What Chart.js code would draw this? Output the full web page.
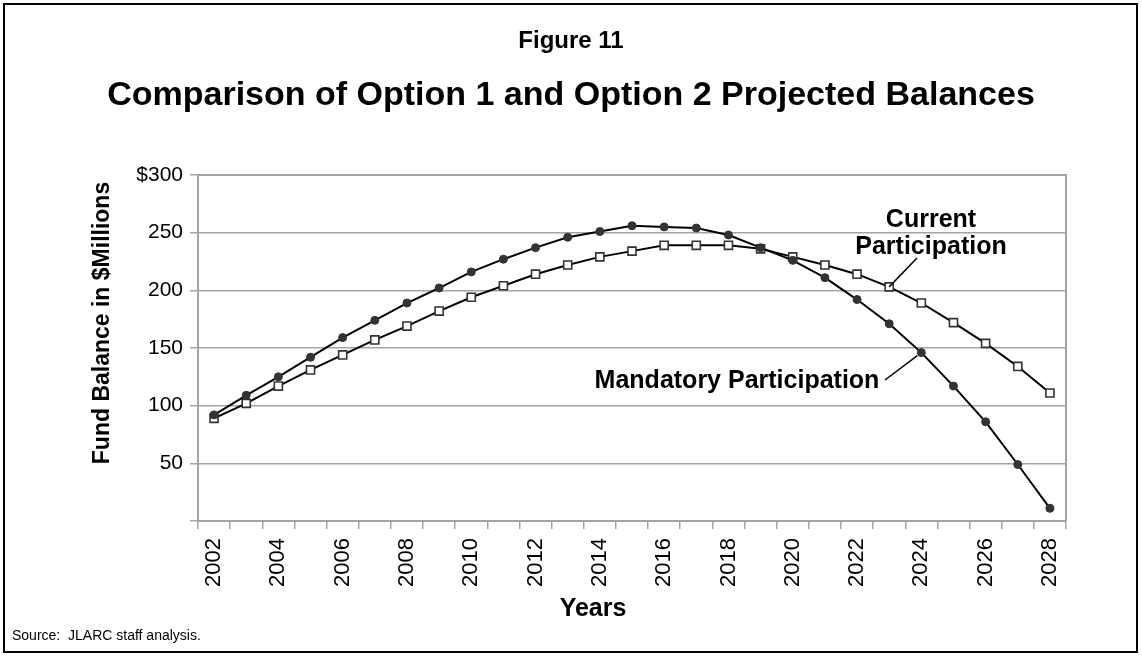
<!DOCTYPE html>
<html>
<head>
<meta charset="utf-8">
<script src="https://cdn.jsdelivr.net/npm/chart.js@4.4.1/dist/chart.umd.min.js"></script>
<style>
  html, body { margin: 0; padding: 0; background: #fff; }
  #wrap { width: 1142px; height: 658px; position: relative; }
</style>
</head>
<body>
<div id="wrap"><canvas id="c" width="1142" height="658"></canvas></div>
<script>
// Projected fund balances, $ millions
const years = ['2002','2003','2004','2005','2006','2007','2008','2009','2010','2011','2012','2013','2014',
               '2015','2016','2017','2018','2019','2020','2021','2022','2023','2024','2025','2026','2027','2028'];
const mandatoryParticipation = [92, 109, 125, 142, 159, 174, 189, 202, 216, 227, 237, 246, 251,
                                256, 255, 254, 248, 237, 226, 211, 192, 171, 146, 117, 86, 49, 11];
const currentParticipation   = [89, 102, 117, 131, 144, 157, 169, 182, 194, 204, 214, 222, 229,
                                234, 239, 239, 239, 236, 229, 222, 214, 203, 189, 172, 154, 134, 111];
const yTicks = [0, 50, 100, 150, 200, 250, 300];

const FONT = '"Liberation Sans", Arial, Helvetica, sans-serif';
const GRID = '#a3a3a3';

function drawText(ctx, text, x, y, font) {
  ctx.font = font;
  ctx.fillText(text, x, y);
}

// Frame, headings, axis titles, source note and line call-outs
const decorations = {
  id: 'decorations',
  beforeDraw(chart) {
    const ctx = chart.ctx;
    ctx.save();
    ctx.fillStyle = '#fff';
    ctx.fillRect(0, 0, chart.width, chart.height);
    ctx.restore();
  },
  afterDraw(chart) {
    const ctx = chart.ctx;
    const xs = chart.scales.x, ys = chart.scales.y;
    const area = chart.chartArea;
    ctx.save();

    // plot border (top / right)
    ctx.strokeStyle = GRID;
    ctx.lineWidth = 2;
    ctx.beginPath();
    ctx.moveTo(area.left, area.top);
    ctx.lineTo(area.right, area.top);
    ctx.lineTo(area.right, area.bottom);
    ctx.stroke();

    // outer frame
    ctx.strokeStyle = '#000';
    ctx.lineWidth = 2;
    ctx.strokeRect(4, 4, 1133, 648);

    ctx.fillStyle = '#000';
    ctx.textAlign = 'center';
    ctx.textBaseline = 'middle';

    drawText(ctx, 'Figure 11', 571, 41, 'bold 24px ' + FONT);
    drawText(ctx, 'Comparison of Option 1 and Option 2 Projected Balances', 571, 96, 'bold 34px ' + FONT);

    // y axis title
    ctx.save();
    ctx.translate(103, 323);
    ctx.rotate(-Math.PI / 2);
    drawText(ctx, 'Fund Balance in $Millions', 0, 0, 'bold 23px ' + FONT);
    ctx.restore();

    // x axis title
    drawText(ctx, 'Years', 593, 609, 'bold 25px ' + FONT);

    // source note
    ctx.textAlign = 'left';
    drawText(ctx, 'Source:  JLARC staff analysis.', 12, 636, '14px ' + FONT);

    // call-out labels
    ctx.textAlign = 'center';
    drawText(ctx, 'Current', 931, 220, 'bold 25px ' + FONT);
    drawText(ctx, 'Participation', 931, 247, 'bold 25px ' + FONT);
    drawText(ctx, 'Mandatory Participation', 737, 381, 'bold 25px ' + FONT);

    // leader lines to the series
    const iCur = years.indexOf('2023');
    const iMan = years.indexOf('2024');
    ctx.strokeStyle = '#000';
    ctx.lineWidth = 1.5;
    ctx.beginPath();
    ctx.moveTo(917, 258);
    ctx.lineTo(xs.getPixelForValue(iCur), ys.getPixelForValue(currentParticipation[iCur]));
    ctx.moveTo(885, 380);
    ctx.lineTo(xs.getPixelForValue(iMan) - 4, ys.getPixelForValue(mandatoryParticipation[iMan]) + 3);
    ctx.stroke();

    ctx.restore();
  }
};

new Chart(document.getElementById('c'), {
  type: 'line',
  data: {
    labels: years,
    datasets: [
      {
        label: 'Mandatory Participation',
        data: mandatoryParticipation,
        borderColor: '#000',
        borderWidth: 2,
        pointStyle: 'circle',
        pointRadius: 4,
        pointBackgroundColor: '#333',
        pointBorderColor: '#333',
        pointBorderWidth: 1,
        tension: 0
      },
      {
        label: 'Current Participation',
        data: currentParticipation,
        borderColor: '#000',
        borderWidth: 2,
        pointStyle: 'rect',
        pointRadius: 5.7,
        pointBackgroundColor: '#fff',
        pointBorderColor: '#333',
        pointBorderWidth: 1.6,
        tension: 0
      }
    ]
  },
  options: {
    responsive: false,
    animation: false,
    devicePixelRatio: 1,
    layout: { padding: { left: 0, top: 175, right: 76, bottom: 0 } },
    plugins: {
      legend: { display: false },
      tooltip: { enabled: false },
      title: { display: false }
    },
    scales: {
      x: {
        type: 'category',
        offset: true,
        afterFit(scale) { scale.height = 137; },
        grid: {
          display: true,
          offset: true,
          drawOnChartArea: false,
          drawTicks: true,
          tickLength: 8,
          color: GRID,
          lineWidth: 1.5
        },
        border: { color: GRID, width: 2 },
        ticks: {
          autoSkip: false,
          minRotation: 90,
          maxRotation: 90,
          padding: 9,
          color: '#000',
          font: { family: FONT, size: 22 },
          callback: (v, i) => (i % 2 === 0 ? years[i] : '')
        }
      },
      y: {
        min: yTicks[0],
        max: yTicks[yTicks.length - 1],
        afterFit(scale) { scale.width = 198; },
        afterBuildTicks(scale) { scale.ticks = yTicks.map(v => ({ value: v })); },
        grid: {
          color: GRID,
          lineWidth: 1.5,
          tickLength: 8,
          drawTicks: true
        },
        border: { color: GRID, width: 2 },
        ticks: {
          padding: 7,
          color: '#000',
          font: { family: FONT, size: 21 },
          callback: v => (v === 0 ? '' : v === 300 ? '$300' : String(v))
        }
      }
    }
  },
  plugins: [decorations]
});
</script>
</body>
</html>
